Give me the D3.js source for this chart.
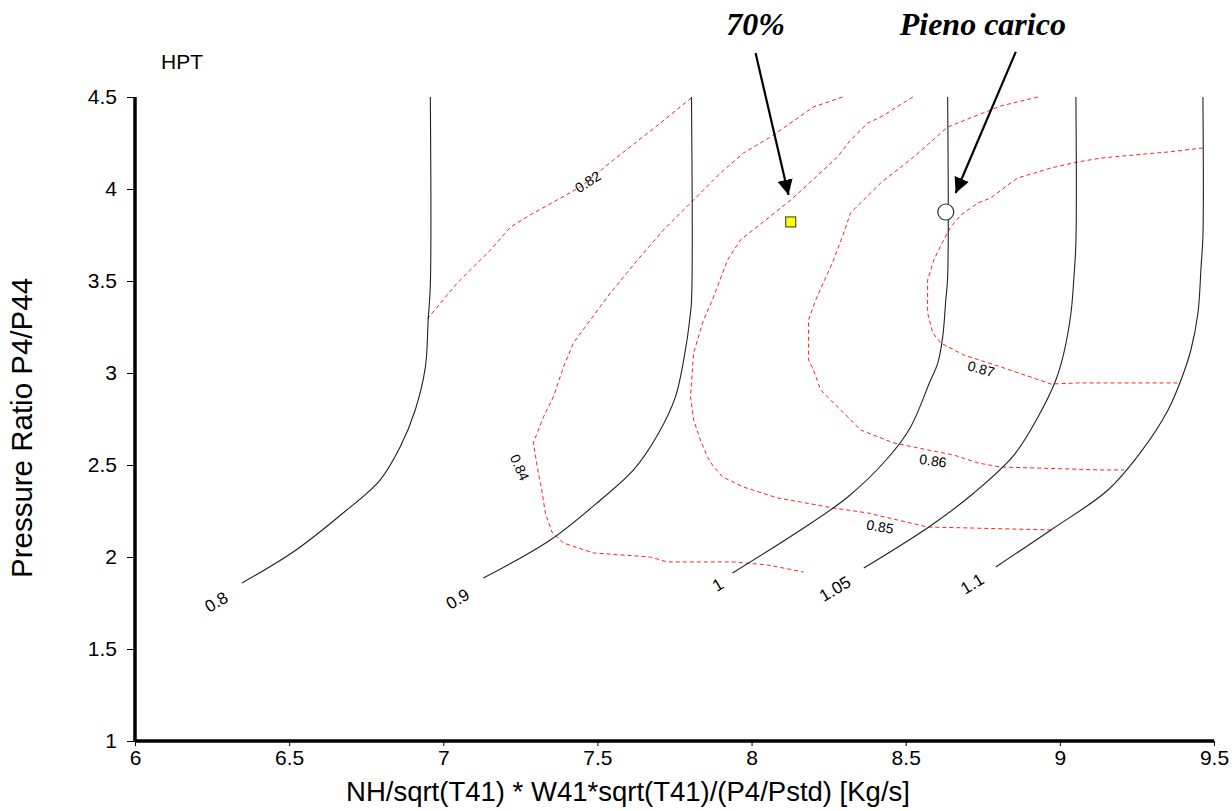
<!DOCTYPE html>
<html>
<head>
<meta charset="utf-8">
<script src="https://cdn.jsdelivr.net/npm/d3@7"></script>
<style>
  html, body { margin: 0; padding: 0; background: #fff; }
  svg { display: block; }
</style>
</head>
<body>
<svg id="chart" width="1232" height="811"></svg>
<script>
// HPT turbine map: corrected speed lines (black) and efficiency islands (red dashed)

const xTicks = [6, 6.5, 7, 7.5, 8, 8.5, 9, 9.5];
const yTicks = [1, 1.5, 2, 2.5, 3, 3.5, 4, 4.5];

// Corrected speed lines: [mass-flow parameter, pressure ratio]
const speed080 = [[6.958,4.5],[6.958,3.478],[6.951,3.288],[6.942,3.033],[6.909,2.799],[6.860,2.598],[6.795,2.418],[6.675,2.239],[6.513,2.027],[6.347,1.859]];
const speed090 = [[7.805,4.5],[7.805,3.386],[7.799,3.288],[7.789,3.163],[7.753,2.870],[7.695,2.663],[7.617,2.473],[7.510,2.310],[7.347,2.092],[7.130,1.886]];
const speed100 = [[8.636,4.5],[8.636,3.522],[8.630,3.397],[8.620,3.196],[8.604,3.054],[8.578,2.951],[8.516,2.707],[8.442,2.538],[8.312,2.326],[8.159,2.147],[7.938,1.913]];
const speed105 = [[9.052,4.5],[9.052,3.707],[9.045,3.505],[9.036,3.326],[9.013,3.109],[8.987,2.962],[8.929,2.761],[8.851,2.554],[8.721,2.348],[8.575,2.163],[8.364,1.940]];
const speed110 = [[9.464,4.5],[9.464,3.739],[9.458,3.576],[9.448,3.326],[9.425,3.125],[9.399,2.989],[9.351,2.799],[9.263,2.571],[9.156,2.364],[8.971,2.147],[8.792,1.946]];

const speedNames = ["0.8", "0.9", "1", "1.05", "1.1"];
// label anchor [x, y] for each speed line
const speedLabelPos = [[6.266,1.750],[7.049,1.766],[7.893,1.842],[8.273,1.821],[8.718,1.848]];

// Efficiency contours
const eff082 = [[6.948,3.293],[7.045,3.489],[7.153,3.668],[7.218,3.793],[7.282,3.859],[7.445,4.011],[7.552,4.158],[7.705,4.359],[7.808,4.5]];
const eff084 = [[8.295,4.5],[8.201,4.446],[8.062,4.283],[7.974,4.196],[7.899,4.087],[7.802,3.924],[7.714,3.777],[7.630,3.614],[7.542,3.435],[7.477,3.288],[7.422,3.163],[7.390,3.033],[7.357,2.870],[7.325,2.761],[7.292,2.620],[7.305,2.489],[7.321,2.348],[7.331,2.239],[7.354,2.130],[7.390,2.076],[7.487,2.022],[7.672,2.000],[7.727,1.973],[7.942,1.973],[8.052,1.957],[8.169,1.918]];
const eff085 = [[8.523,4.5],[8.419,4.391],[8.377,4.359],[8.321,4.266],[8.279,4.174],[8.127,3.940],[7.964,3.723],[7.922,3.614],[7.873,3.397],[7.844,3.288],[7.812,3.109],[7.802,2.870],[7.812,2.745],[7.834,2.636],[7.857,2.543],[7.873,2.500],[7.906,2.435],[7.974,2.380],[8.084,2.321],[8.159,2.299],[8.266,2.266],[8.377,2.239],[8.571,2.163],[8.701,2.158],[8.971,2.147]];
const eff086 = [[8.929,4.5],[8.808,4.451],[8.636,4.337],[8.526,4.174],[8.419,4.033],[8.321,3.870],[8.299,3.761],[8.266,3.614],[8.208,3.397],[8.185,3.288],[8.185,3.071],[8.201,3.016],[8.224,2.908],[8.266,2.837],[8.312,2.761],[8.354,2.690],[8.461,2.620],[8.571,2.582],[8.656,2.554],[8.734,2.511],[8.808,2.489],[8.916,2.484],[9.133,2.473],[9.208,2.473]];
const eff087 = [[9.464,4.223],[9.351,4.201],[9.240,4.185],[9.133,4.168],[9.058,4.147],[8.971,4.114],[8.864,4.060],[8.831,4.022],[8.776,3.951],[8.734,3.924],[8.679,3.859],[8.646,3.793],[8.623,3.723],[8.591,3.614],[8.571,3.505],[8.571,3.326],[8.588,3.217],[8.614,3.163],[8.688,3.098],[8.808,3.033],[8.906,2.978],[8.971,2.940],[9.058,2.946],[9.383,2.946]];

const effNames = ["0.82", "0.84", "0.85", "0.86", "0.87"];
// label anchor [x, y] and rotation (deg) for each contour label
const effLabelPos = [[7.471,4.033],[7.244,2.484],[8.416,2.158],[8.588,2.516],[8.744,3.016]];
const effLabelAngle = [-33, 65, 10, 8, 15];

// Operating points
const point70 = [8.127, 3.821];
const pointFull = [8.630, 3.875];

// Annotation callouts: text, text anchor, arrow start, arrow tip
const calloutText = ["70%", "Pieno carico"];
const calloutTextPos = [[8.013, 4.837], [8.750, 4.837]];
const calloutFrom = [[8.013, 4.739], [8.857, 4.745]];
const calloutTo = [[8.120, 3.967], [8.662, 3.978]];

const svg = d3.select("#chart");
const margin = {left: 135, right: 18, top: 97, bottom: 70};
const W = 1232, H = 811;
const sans = "Liberation Sans, Arial, sans-serif";

const x = d3.scaleLinear().domain([6, 9.5]).range([margin.left, W - margin.right]);
const y = d3.scaleLinear().domain([1, 4.5]).range([H - margin.bottom, margin.top]);

svg.append("defs").append("marker")
  .attr("id", "arrowhead")
  .attr("viewBox", "0 0 10 10")
  .attr("refX", 10).attr("refY", 5)
  .attr("markerWidth", 7).attr("markerHeight", 7)
  .attr("markerUnits", "strokeWidth")
  .attr("orient", "auto")
  .append("path").attr("d", "M0,0 L10,5 L0,10 z").attr("fill", "#000");

const line = d3.line().x(d => x(d[0])).y(d => y(d[1]));
const smooth = d3.line().x(d => x(d[0])).y(d => y(d[1])).curve(d3.curveCatmullRom.alpha(0.5));

// efficiency contours
const effLines = [eff082, eff084, eff085, eff086, eff087];
svg.append("g").selectAll("path").data(effLines).join("path")
  .attr("d", line)
  .attr("fill", "none")
  .attr("stroke", "#ff2020")
  .attr("stroke-width", 1)
  .attr("stroke-dasharray", "4,3");

// speed lines
const speedLines = [speed080, speed090, speed100, speed105, speed110];
svg.append("g").selectAll("path").data(speedLines).join("path")
  .attr("d", smooth)
  .attr("fill", "none")
  .attr("stroke", "#222")
  .attr("stroke-width", 1.1);

// speed labels
svg.append("g").selectAll("text").data(speedNames).join("text")
  .attr("transform", (d, i) => `translate(${x(speedLabelPos[i][0])},${y(speedLabelPos[i][1])}) rotate(-31)`)
  .attr("text-anchor", "middle")
  .attr("dominant-baseline", "middle")
  .attr("font-family", sans)
  .attr("font-size", 17)
  .attr("fill", "#000")
  .text(d => d);

// efficiency labels
svg.append("g").selectAll("text").data(effNames).join("text")
  .attr("transform", (d, i) => `translate(${x(effLabelPos[i][0])},${y(effLabelPos[i][1])}) rotate(${effLabelAngle[i]})`)
  .attr("text-anchor", "middle")
  .attr("dominant-baseline", "middle")
  .attr("font-family", sans)
  .attr("font-size", 14)
  .attr("fill", "#000")
  .text(d => d);

// axes
const xAxis = d3.axisBottom(x).tickValues(xTicks).tickSize(5).tickPadding(4).tickFormat(d3.format("~g"));
const yAxis = d3.axisLeft(y).tickValues(yTicks).tickSize(8).tickPadding(10).tickFormat(d3.format("~g"));

const gx = svg.append("g").attr("transform", `translate(0,${y(1)})`).call(xAxis);
const gy = svg.append("g").attr("transform", `translate(${x(6)},0)`).call(yAxis);
[gx, gy].forEach(g => {
  g.select(".domain").attr("stroke", "#000").attr("stroke-width", 3.5);
  g.selectAll(".tick line").attr("stroke", "#000").attr("stroke-width", 1);
  g.selectAll(".tick text")
    .attr("font-family", sans)
    .attr("font-size", 21)
    .attr("fill", "#000");
});
gy.select(".domain").attr("d", `M0,${y(4.5)}V${y(1)}`);
gx.select(".domain").attr("d", `M0,0H${x(9.5) - x(6)}`).attr("transform", `translate(${x(6)},0)`);

// axis titles
svg.append("text")
  .attr("x", 628)
  .attr("y", 801)
  .attr("text-anchor", "middle")
  .attr("font-family", sans)
  .attr("font-size", 27.5)
  .text("NH/sqrt(T41) * W41*sqrt(T41)/(P4/Pstd) [Kg/s]");

svg.append("text")
  .attr("transform", `translate(32,428) rotate(-90)`)
  .attr("text-anchor", "middle")
  .attr("font-family", sans)
  .attr("font-size", 29.5)
  .text("Pressure Ratio P4/P44");

svg.append("text")
  .attr("x", 161).attr("y", 69)
  .attr("font-family", sans)
  .attr("font-size", 21)
  .text("HPT");

// operating points
svg.append("rect")
  .attr("x", x(point70[0]) - 5).attr("y", y(point70[1]) - 5)
  .attr("width", 10).attr("height", 10)
  .attr("fill", "#ffff00").attr("stroke", "#333").attr("stroke-width", 1);

svg.append("circle")
  .attr("cx", x(pointFull[0])).attr("cy", y(pointFull[1])).attr("r", 8)
  .attr("fill", "#fff").attr("stroke", "#333").attr("stroke-width", 1.2);

// callouts
calloutText.forEach((t, i) => {
  svg.append("text")
    .attr("x", x(calloutTextPos[i][0])).attr("y", y(calloutTextPos[i][1]))
    .attr("text-anchor", "middle")
    .attr("font-family", "Liberation Serif, Times New Roman, serif")
    .attr("font-style", "italic").attr("font-weight", "bold")
    .attr("font-size", 32)
    .text(t);
  svg.append("line")
    .attr("x1", x(calloutFrom[i][0])).attr("y1", y(calloutFrom[i][1]))
    .attr("x2", x(calloutTo[i][0])).attr("y2", y(calloutTo[i][1]))
    .attr("stroke", "#000").attr("stroke-width", 2.2)
    .attr("marker-end", "url(#arrowhead)");
});
</script>
</body>
</html>
